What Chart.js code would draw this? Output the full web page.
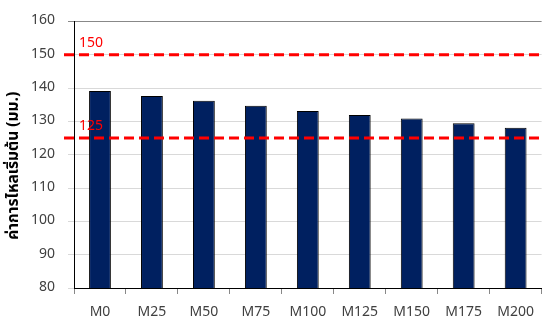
<!DOCTYPE html>
<html>
<head>
<meta charset="utf-8">
<script src="https://cdn.jsdelivr.net/npm/chart.js@4/dist/chart.umd.min.js"></script>
<style>
  body { margin: 0; background: #fff; }
  #wrap { width: 545px; height: 323px; }
</style>
</head>
<body>
<div id="wrap"><canvas id="flowChart" width="545" height="323"></canvas></div>
<script>
// ค่าการไหลเริ่มต้นของแต่ละส่วนผสม
var mixes = ['M0', 'M25', 'M50', 'M75', 'M100', 'M125', 'M150', 'M175', 'M200'];
var flowValues = [139.1, 137.6, 136.2, 134.7, 133.1, 131.9, 130.9, 129.4, 128.1];

// เส้นเกณฑ์ (ขั้นต่ำ / ขั้นสูง)
var limitValues = [150, 125];
var limitLabels = ['150', '125'];

var yTitle = 'ค่าการไหลเริ่มต้น (มม.)';
var fontFamily = "Tahoma, 'Noto Sans Thai', 'Noto Sans', sans-serif";

var limitLines = {
  id: 'limitLines',
  afterDatasetsDraw: function(chart) {
    var ctx = chart.ctx, area = chart.chartArea, y = chart.scales.y;
    ctx.save();
    ctx.strokeStyle = '#ff0000';
    ctx.lineWidth = 3;
    ctx.setLineDash([10, 5]);
    ctx.fillStyle = '#ff0000';
    ctx.font = '14px ' + fontFamily;
    ctx.textBaseline = 'middle';
    limitValues.forEach(function(v, i) {
      var py = y.getPixelForValue(v);
      ctx.beginPath();
      ctx.moveTo(area.left - 10, py);
      ctx.lineTo(area.right, py);
      ctx.stroke();
      ctx.fillText(limitLabels[i], area.left + 5, py - 11);
    });
    ctx.restore();
  },
  afterDraw: function(chart) {
    // ชื่อแกนตั้ง
    var ctx = chart.ctx, area = chart.chartArea;
    ctx.save();
    ctx.translate(15, (area.top + area.bottom) / 2 + 11);
    ctx.rotate(-Math.PI / 2);
    ctx.font = 'bold 15.5px ' + fontFamily;
    ctx.fillStyle = '#000';
    ctx.textAlign = 'center';
    ctx.textBaseline = 'middle';
    ctx.fillText(yTitle, 0, 0);
    ctx.restore();
  }
};

new Chart(document.getElementById('flowChart'), {
  type: 'bar',
  data: {
    labels: mixes,
    datasets: [{
      data: flowValues,
      backgroundColor: '#002060',
      borderColor: '#000000',
      borderWidth: 1,
      barPercentage: 0.42,
      categoryPercentage: 1
    }]
  },
  options: {
    responsive: false,
    animation: false,
    layout: { padding: { top: 14, right: 0, left: 0, bottom: 0 } },
    plugins: {
      legend: { display: false },
      tooltip: { enabled: false }
    },
    scales: {
      x: {
        afterFit: function(scale) { scale.height = 35; },
        grid: { drawOnChartArea: false, tickLength: 6, color: '#888888' },
        border: { color: '#000000', width: 1 },
        ticks: { color: '#404040', padding: 11, font: { size: 14, family: fontFamily } }
      },
      y: {
        min: 80,
        max: 160,
        afterFit: function(scale) { scale.width = 74; },
        grid: {
          tickLength: 6,
          color: function(c) { return c.tick && c.tick.value === 160 ? '#888888' : '#d9d9d9'; }
        },
        border: { color: '#000000', width: 1 },
        ticks: { stepSize: 10, color: '#404040', padding: 13, font: { size: 14, family: fontFamily } }
      }
    }
  },
  plugins: [limitLines]
});
</script>
</body>
</html>
